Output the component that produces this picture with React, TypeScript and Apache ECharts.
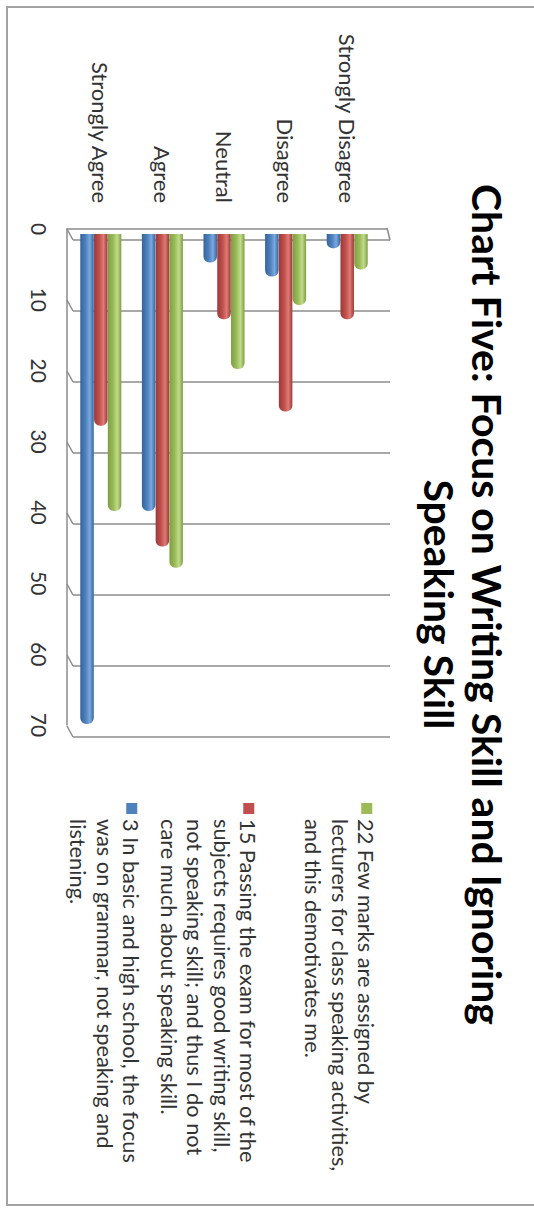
import React, { useEffect, useRef } from 'react';
import * as echarts from 'echarts';

// ---------- data ----------
const categories = ['Strongly Agree', 'Agree', 'Neutral', 'Disagree', 'Strongly Disagree'];
const blueName = '3 In basic and high school, the focus was on grammar, not speaking and listening.';
const redName = '15 Passing the exam for most of the subjects requires good writing skill, not speaking skill; and thus I do not care much about speaking skill.';
const greenName = '22 Few marks are assigned by lecturers for class speaking activities, and this demotivates me.';
const blueValues = [69, 39, 4, 6, 2];
const redValues = [27, 44, 12, 25, 12];
const greenValues = [39, 47, 19, 10, 5];
const valueTicks = [0, 10, 20, 30, 40, 50, 60, 70];
const titleText = 'Chart Five: Focus on Writing Skill and Ignoring\nSpeaking Skill';
const blueLines = ['3 In basic and high school, the focus', 'was on grammar, not speaking and', 'listening.'];
const redLines = ['15 Passing the exam for most of the', 'subjects requires good writing skill,', 'not speaking skill; and thus I do not', 'care much about speaking skill.'];
const greenLines = ['22 Few marks are assigned by', 'lecturers for class speaking activities,', 'and this demotivates me.'];

// ---------- style ----------
const FONT = 'Lato, "Open Sans", sans-serif';
const LINE = '#8c8c8c';
const TEXT = '#333333';
const LH = 26.5;

function cyl(dark: string, light: string, mid: string) {
  return new echarts.graphic.LinearGradient(0, 0, 0, 1, [
    { offset: 0, color: dark },
    { offset: 0.3, color: light },
    { offset: 0.6, color: mid },
    { offset: 1, color: dark },
  ]);
}

function legendFor(name: string, lines: string[], color: string, markerTop: number) {
  const n = lines.length;
  const h = 11 + (n - 1) * LH;
  return {
    show: true,
    left: 803,
    top: markerTop - 7,
    padding: 0,
    orient: 'vertical',
    itemWidth: 11,
    itemHeight: h,
    icon: `path://M0,0h11v11h-11z M0,${h}`,
    selectedMode: false,
    data: [{ name, itemStyle: { color } }],
    formatter: () => lines.join('\n'),
    textStyle: {
      fontFamily: FONT,
      fontSize: 21.8,
      color: TEXT,
      lineHeight: LH,
    },
  };
}

function buildOption() {
  const barBase = {
    type: 'bar',
    xAxisIndex: 2,
    yAxisIndex: 2,
    barWidth: 13.5,
    barGap: '2%',
    z: 5,
  };
  return {
    animation: false,
    backgroundColor: '#ffffff',
    title: {
      text: titleText,
      left: 'center',
      top: 23,
      padding: 0,
      textStyle: { fontFamily: FONT, fontSize: 41, fontWeight: 'bold', color: '#000', lineHeight: 48 },
    },
    legend: [
      legendFor(greenName, greenLines, '#9BBB59', 161),
      legendFor(redName, redLines, '#C0504D', 279),
      legendFor(blueName, blueLines, '#4F81BD', 396),
    ],
    grid: [
      { left: 229, top: 147, width: 496, height: 320 },
      { left: 240, top: 144, width: 497, height: 317 },
      { left: 234, top: 156, width: 497, height: 308 },
    ],
    xAxis: [
      {
        gridIndex: 0, type: 'value', min: 0, max: 70, interval: 10,
        axisLine: { show: true, lineStyle: { color: LINE, width: 1.5 } },
        axisTick: { show: false },
        splitLine: { show: false },
        axisLabel: { fontFamily: FONT, fontSize: 21, color: TEXT, margin: 17 },
      },
      {
        gridIndex: 1, type: 'value', min: 0, max: 70, interval: 10,
        axisLine: { show: false }, axisTick: { show: false }, axisLabel: { show: false },
        splitLine: { show: true, lineStyle: { color: LINE, width: 1.5 } },
      },
      { gridIndex: 2, type: 'value', min: 0, max: 70, interval: 10, show: false },
    ],
    yAxis: [
      {
        gridIndex: 0, type: 'value', min: 0, max: 1,
        axisLine: { show: true, lineStyle: { color: LINE, width: 1.5 } },
        axisTick: { show: false }, axisLabel: { show: false }, splitLine: { show: false },
      },
      { gridIndex: 1, type: 'value', min: 0, max: 1, show: false, splitLine: { show: false } },
      {
        gridIndex: 2, type: 'category', data: categories,
        axisLine: { show: false }, axisTick: { show: false },
        axisLabel: { fontFamily: FONT, fontSize: 22, color: TEXT, margin: 31, padding: [8, 0, 0, 0] },
      },
    ],
    graphic: [
      {
        type: 'rect',
        shape: { x: 7, y: -5, width: 1198, height: 532 },
        style: { fill: 'none', stroke: '#a3a3a3', lineWidth: 2 },
        silent: true,
      },
    ],
    series: [
      {
        type: 'custom',
        xAxisIndex: 1,
        yAxisIndex: 1,
        silent: true,
        z: 1,
        data: valueTicks.map((v) => [v, 0]),
        renderItem: (params: any, api: any) => {
          const p = api.coord([api.value(0), 0]);
          const children: any[] = [
            { type: 'line', shape: { x1: p[0] - 11, y1: p[1] + 6, x2: p[0], y2: p[1] }, style: { stroke: LINE, lineWidth: 1.5 } },
          ];
          if (params.dataIndex === 0) {
            const q = api.coord([0, 1]);
            children.push({ type: 'line', shape: { x1: q[0] - 12, y1: q[1] + 3, x2: q[0], y2: q[1] }, style: { stroke: LINE, lineWidth: 1.5 } });
          }
          return { type: 'group', children };
        },
      },
      {
        ...barBase,
        name: greenName,
        data: greenValues,
        itemStyle: { color: cyl('#7f9d45', '#c0dc8a', '#9BBB59'), borderRadius: [0, 6, 6, 0] },
      },
      {
        ...barBase,
        name: redName,
        data: redValues,
        itemStyle: { color: cyl('#9a3a37', '#e07a76', '#C0504D'), borderRadius: [0, 6, 6, 0] },
      },
      {
        ...barBase,
        name: blueName,
        data: blueValues,
        itemStyle: { color: cyl('#36649c', '#7aa9e0', '#4F81BD'), borderRadius: [0, 6, 6, 0] },
      },
    ],
  };
}

export default function App() {
  const ref = useRef<HTMLDivElement>(null);
  useEffect(() => {
    if (!ref.current) return;
    const chart = echarts.init(ref.current, null, { renderer: 'svg' });
    chart.setOption(buildOption() as any);
    return () => chart.dispose();
  }, []);
  return (
    <div style={{ position: 'fixed', left: 0, top: 0, width: 534, height: 1209, background: '#fff', overflow: 'hidden' }}>
      <div
        ref={ref}
        style={{
          position: 'absolute',
          left: 0,
          top: 0,
          width: 1209,
          height: 534,
          transformOrigin: '0 0',
          transform: 'translateX(534px) rotate(90deg)',
        }}
      />
    </div>
  );
}
